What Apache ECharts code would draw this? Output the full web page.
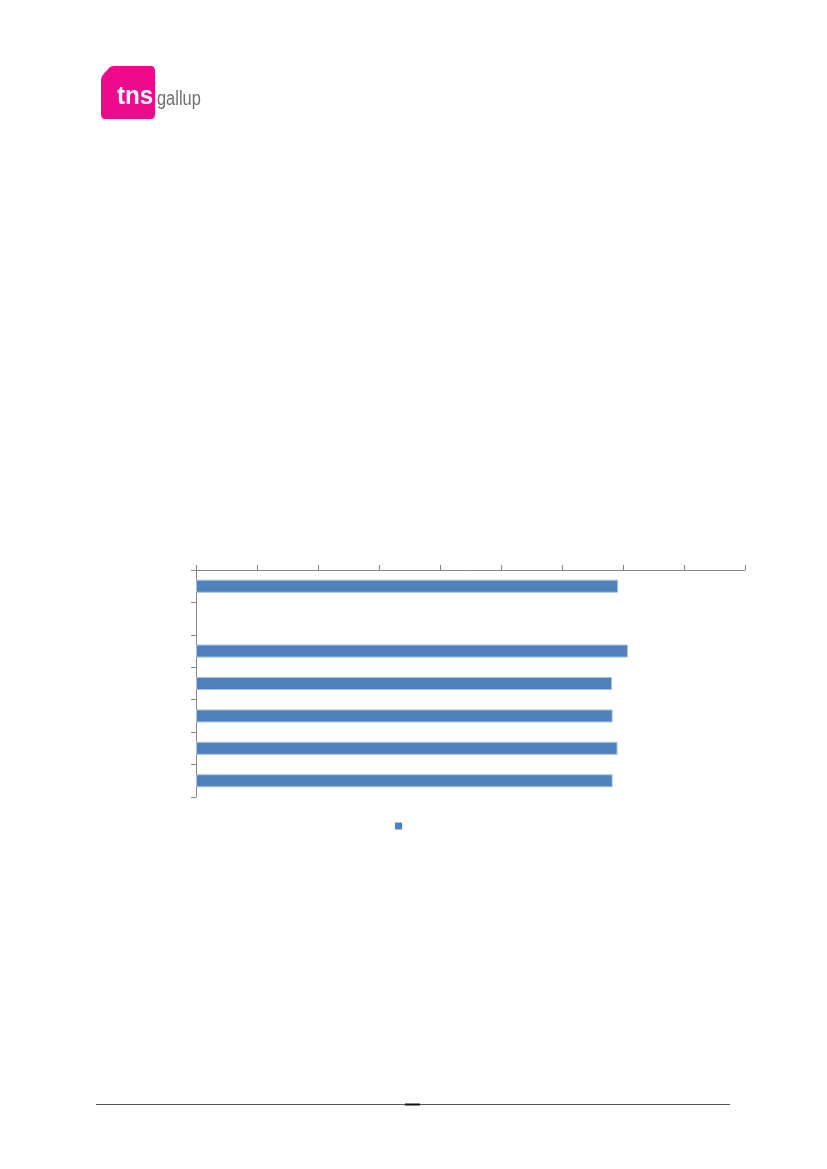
<!DOCTYPE html>
<html>
<head>
<meta charset="utf-8">
<script src="https://cdn.jsdelivr.net/npm/echarts@6/dist/echarts.min.js"></script>
<style>
html,body{margin:0;padding:0;background:#fff;}
#chart{width:827px;height:1169px;}
</style>
</head>
<body>
<div id="chart"></div>
<script>
// Data (category labels are not shown in the reference)
var categories = ['A', 'B', 'C', 'D', 'E', 'F', 'G'];
var values = [69.2, null, 70.8, 68.2, 68.3, 69.1, 68.3];
var seriesName = ' ';
var axisMin = 0, axisMax = 90, axisStep = 10;

var chart = echarts.init(document.getElementById('chart'), null, {renderer: 'canvas'});
var axisColor = '#868686';

// logo outline (rounded square with cut top-left corner)
var logoPts = [
  [114,66],[151,66],[153.5,66.6],[154.4,68],[155,70],
  [155,115],[154.4,117],[153.5,118.4],[151,119],
  [105,119],[102.6,118.4],[101.6,117],[101,115],
  [101,80],[101.5,77.5],[102.5,75.5],[104,73.5],
  [109,68],[111,66.6]
];

chart.setOption({
  backgroundColor: '#ffffff',
  animation: false,
  grid: {left: 196, top: 570, width: 549, height: 227, containLabel: false},
  legend: {
    data: [seriesName],
    left: 395, top: 821, padding: 0,
    itemWidth: 7, itemHeight: 7, itemGap: 4,
    icon: 'rect',
    itemStyle: {borderWidth: 0, color: '#4F81BD'},
    textStyle: {fontSize: 10, color: '#000'},
    selectedMode: false
  },
  xAxis: {
    type: 'value', position: 'top',
    min: axisMin, max: axisMax, interval: axisStep,
    axisLine: {show: true, lineStyle: {color: axisColor, width: 1}},
    axisTick: {show: true, inside: false, length: 5, lineStyle: {color: axisColor}},
    axisLabel: {show: false},
    splitLine: {show: false}
  },
  yAxis: {
    type: 'category', inverse: true, data: categories,
    axisLine: {show: true, onZero: false, lineStyle: {color: axisColor, width: 1}},
    axisTick: {show: true, inside: false, length: 5, alignWithLabel: false, lineStyle: {color: axisColor}},
    axisLabel: {show: false},
    splitLine: {show: false}
  },
  series: [{
    name: seriesName,
    type: 'bar',
    data: values,
    barWidth: 13,
    itemStyle: {color: '#4F81BD', borderColor: '#A7BFDE', borderWidth: 1}
  }],
  graphic: [
    {
      type: 'polygon', z: 10,
      shape: {points: logoPts},
      style: {fill: '#EE0A8C'}
    },
    {
      type: 'text', z: 11, x: 117, y: 84, scaleX: 0.93,
      style: {text: 'tns', x: 0, y: 0, fill: '#ffffff', font: 'bold 26px "Liberation Sans", Arial, sans-serif'}
    },
    {
      type: 'text', z: 11, x: 157, y: 89, scaleX: 0.82,
      style: {text: 'gallup', x: 0, y: 0, fill: '#707070', font: '20px "Liberation Sans", Arial, sans-serif'}
    },
    {
      type: 'line', z: 10,
      shape: {x1: 96, y1: 1104.5, x2: 730, y2: 1104.5},
      style: {stroke: '#555555', lineWidth: 1}
    },
    {
      type: 'line', z: 11,
      shape: {x1: 405, y1: 1104.5, x2: 420, y2: 1104.5},
      style: {stroke: '#111111', lineWidth: 2}
    }
  ]
});
</script>
</body>
</html>
